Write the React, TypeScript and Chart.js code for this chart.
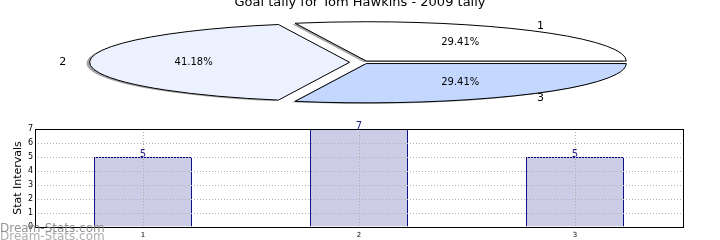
import React, { useEffect, useRef } from 'react';
import { Chart, registerables } from 'chart.js';

Chart.register(...registerables);
Chart.defaults.font.family = "'DejaVu Sans', sans-serif";
Chart.defaults.color = '#000000';

const TITLE = 'Goal tally for Tom Hawkins - 2009 tally';
const PIE_LABELS = ['1', '2', '3'];
const PIE_VALUES = [5, 7, 5];
const PIE_COLORS = ['#ffffff', '#ebf1ff', '#c4d8ff'];
const PIE_EXPLODE = [0.04, 0.04, 0.04];

const BAR_CATEGORIES = ['1', '2', '3'];
const BAR_VALUES = [5, 7, 5];
const Y_MIN = 0;
const Y_MAX = 7;
const Y_STEP = 1;
const Y_TITLE = 'Stat Intervals';
const WATERMARK = 'Dream-Stats.com';

const SQUASH = 39.3 / 260; // vertical / horizontal radius of the flattened pie

function shadowColor(hex: string) {
  const n = parseInt(hex.slice(1), 16);
  const r = Math.round(((n >> 16) & 255) * 0.3);
  const g = Math.round(((n >> 8) & 255) * 0.3);
  const b = Math.round((n & 255) * 0.3);
  return `rgba(${r},${g},${b},0.5)`;
}

const flatPiePlugin = {
  id: 'flatPie',
  beforeDatasetsDraw(chart: any) {
    const ctx: CanvasRenderingContext2D = chart.ctx;
    const meta = chart.getDatasetMeta(0);
    const arcs = meta.data as any[];
    const total = PIE_VALUES.reduce((a, b) => a + b, 0);

    const withTransform = (arc: any, i: number, sx: number, sy: number, fn: () => void) => {
      const mid = (arc.startAngle + arc.endAngle) / 2;
      const off = PIE_EXPLODE[i] * arc.outerRadius;
      ctx.save();
      ctx.translate(arc.x + sx, arc.y + sy);
      ctx.scale(1, -SQUASH);
      ctx.translate(-arc.x + Math.cos(mid) * off, -arc.y + Math.sin(mid) * off);
      fn();
      ctx.restore();
    };
    const path = (arc: any) => {
      ctx.beginPath();
      ctx.moveTo(arc.x, arc.y);
      ctx.arc(arc.x, arc.y, arc.outerRadius, arc.startAngle, arc.endAngle);
      ctx.closePath();
    };

    // shadows
    arcs.forEach((arc, i) => {
      withTransform(arc, i, -3, 1, () => path(arc));
      ctx.fillStyle = shadowColor(PIE_COLORS[i]);
      ctx.fill();
    });
    // wedges (library arc elements), then their outlines
    arcs.forEach((arc, i) => {
      withTransform(arc, i, 0, 0, () => arc.draw(ctx));
      withTransform(arc, i, 0, 0, () => path(arc));
      ctx.lineWidth = 1;
      ctx.strokeStyle = '#000000';
      ctx.lineJoin = 'miter';
      ctx.stroke();
    });

    // labels
    arcs.forEach((arc, i) => {
      const mid = (arc.startAngle + arc.endAngle) / 2;
      const r = arc.outerRadius;
      const ex = PIE_EXPLODE[i] * r;
      const px = (d: number) => arc.x + Math.cos(mid) * (ex + d * r);
      const py = (d: number) => arc.y - SQUASH * Math.sin(mid) * (ex + d * r);
      ctx.save();
      ctx.fillStyle = '#000000';
      ctx.textBaseline = 'middle';
      ctx.font = "11px 'DejaVu Sans'";
      ctx.textAlign = Math.cos(mid) >= 0 ? 'left' : 'right';
      ctx.fillText(PIE_LABELS[i], px(1.09), py(1.1));
      ctx.font = "10px 'DejaVu Sans'";
      ctx.textAlign = 'center';
      const pct = ((PIE_VALUES[i] / total) * 100).toFixed(2) + '%';
      ctx.fillText(pct, px(0.6), py(0.6));
      ctx.restore();
    });
    return false;
  },
};

const barExtrasPlugin = {
  id: 'barExtras',
  afterDatasetsDraw(chart: any) {
    const ctx: CanvasRenderingContext2D = chart.ctx;
    const meta = chart.getDatasetMeta(0);
    ctx.save();
    ctx.fillStyle = '#1a1a8c';
    ctx.font = "10px 'DejaVu Sans'";
    ctx.textAlign = 'center';
    ctx.textBaseline = 'alphabetic';
    meta.data.forEach((bar: any, i: number) => {
      ctx.fillText(String(BAR_VALUES[i]), bar.x, bar.y);
    });
    ctx.restore();
  },
  afterDraw(chart: any) {
    const ctx: CanvasRenderingContext2D = chart.ctx;
    const a = chart.chartArea;
    ctx.save();
    ctx.strokeStyle = '#000000';
    ctx.lineWidth = 1;
    ctx.strokeRect(Math.round(a.left) + 0.5, Math.round(a.top) + 0.5, Math.round(a.right - a.left), Math.round(a.bottom - a.top));
    ctx.font = "12px 'DejaVu Sans'";
    ctx.textAlign = 'left';
    ctx.textBaseline = 'alphabetic';
    ctx.fillStyle = 'rgba(160,160,160,0.85)';
    ctx.fillText(WATERMARK, 0, 119.5);
    ctx.fillStyle = 'rgba(130,130,130,0.85)';
    ctx.fillText(WATERMARK, 0, 111.5);
    ctx.restore();
  },
};

export default function App() {
  const pieRef = useRef<HTMLCanvasElement>(null);
  const barRef = useRef<HTMLCanvasElement>(null);

  useEffect(() => {
    const pie = new Chart(pieRef.current as HTMLCanvasElement, {
      type: 'pie',
      data: {
        labels: PIE_LABELS,
        datasets: [
          {
            data: PIE_VALUES,
            backgroundColor: PIE_COLORS,
            borderWidth: 0,
          },
        ],
      },
      options: {
        animation: false,
        responsive: false,
        rotation: 90,
        radius: 260,
        layout: { padding: { top: 0, bottom: 6 } },
        plugins: {
          legend: { display: false },
          tooltip: { enabled: false },
          title: {
            display: true,
            text: TITLE,
            color: '#000000',
            font: { size: 13, weight: 'normal' },
            padding: { top: -5, bottom: 0 },
          },
        },
      },
      plugins: [flatPiePlugin],
    } as any);

    const bar = new Chart(barRef.current as HTMLCanvasElement, {
      type: 'bar',
      data: {
        labels: BAR_CATEGORIES,
        datasets: [
          {
            data: BAR_VALUES,
            backgroundColor: '#cccce6',
            borderColor: '#000080',
            borderWidth: 1,
            barPercentage: 0.454,
            categoryPercentage: 1,
          },
        ],
      },
      options: {
        animation: false,
        responsive: false,
        layout: { padding: { top: 9, right: 37, left: 0, bottom: 0 } },
        plugins: { legend: { display: false }, tooltip: { enabled: false } },
        scales: {
          x: {
            offset: true,
            grid: { offset: false, color: '#b0b0b0', lineWidth: 1, drawTicks: false, z: 1 },
            border: { display: false, dash: [1, 2] },
            ticks: { font: { size: 7 }, padding: 4, color: '#000000' },
            afterFit: (s: any) => {
              s.height = 13;
            },
          },
          y: {
            min: Y_MIN,
            max: Y_MAX,
            ticks: { stepSize: Y_STEP, font: { size: 8 }, padding: 2, color: '#000000' },
            grid: { color: '#b0b0b0', lineWidth: 1, drawTicks: false, z: 1 },
            border: { display: false, dash: [1, 2] },
            title: {
              display: true,
              text: Y_TITLE,
              font: { size: 11 },
              color: '#000000',
              padding: { top: 12, bottom: 0 },
            },
            afterFit: (s: any) => {
              s.width = 35;
            },
          },
        },
      },
      plugins: [barExtrasPlugin],
    } as any);

    return () => {
      pie.destroy();
      bar.destroy();
    };
  }, []);

  return (
    <div style={{ position: 'absolute', left: 0, top: 0, width: 720, height: 240, background: '#ffffff' }}>
      <canvas ref={pieRef} width={720} height={120} style={{ position: 'absolute', left: 0, top: 0, width: 720, height: 120 }} />
      <canvas ref={barRef} width={720} height={120} style={{ position: 'absolute', left: 0, top: 120, width: 720, height: 120 }} />
    </div>
  );
}
